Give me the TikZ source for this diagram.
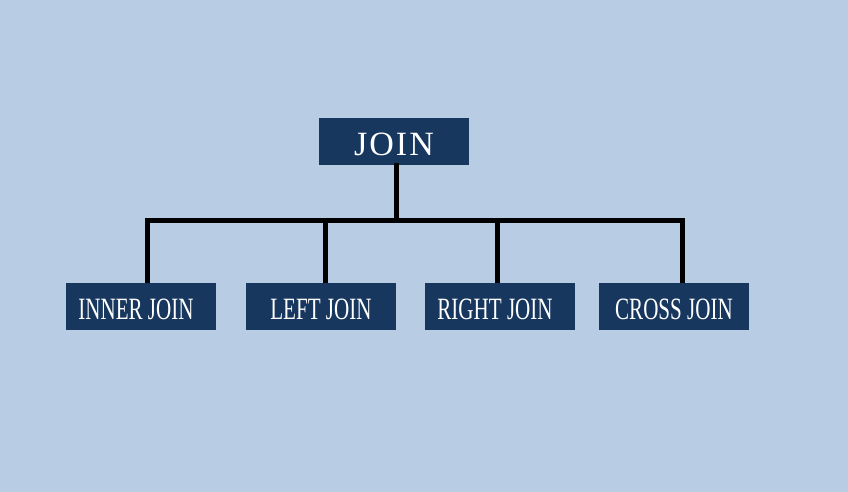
\documentclass[tikz,border=0pt]{standalone}
\usepackage{fontspec}
\setmainfont{Liberation Serif}
\newfontfamily\narrowserif{Liberation Serif}[FakeStretch=0.68]
\newfontfamily\wideserif{Liberation Serif}[LetterSpace=6]
\usepackage{xcolor}
\usepackage{tikz}
\usetikzlibrary{positioning, calc}

\definecolor{bgblue}{HTML}{B8CCE4}
\definecolor{navy}{HTML}{17375E}

\newcommand{\lowtext}[1]{\raisebox{-3pt}[\height][\depth]{#1}}

\begin{document}
\begin{tikzpicture}[
  x=1pt, y=-1pt,
  box/.style={rectangle, fill=navy, text=white, minimum width=150pt, minimum height=47pt, inner sep=0pt, align=center},
  rootbox/.style={box, font=\wideserif\fontsize{34}{36}\selectfont},
  joinbox/.style={box, font=\narrowserif\fontsize{31}{33}\selectfont},
  conn/.style={line width=5pt, black, line join=miter, line cap=rect},
]
  \useasboundingbox[fill=bgblue] (0,0) rectangle (848,492);

  % Nodes
  \node[rootbox] (join) at (394,141.5) {\lowtext{JOIN}};
  \node[joinbox] (inner) at (141,306.5) {\lowtext{INNER JOIN\hspace{10pt}}};
  \node[joinbox] (left) at (321,306.5) {\lowtext{LEFT JOIN}};
  \node[joinbox] (right) at (500,306.5) {\lowtext{RIGHT JOIN\hspace{10pt}}};
  \node[joinbox] (cross) at (674,306.5) {\lowtext{CROSS JOIN}};
  \coordinate (bus) at (396,220);

  % Lines
  \draw[conn] ([xshift=2pt]join.south) -- (bus);
  \draw[conn, line cap=butt] ([xshift=6pt]inner.north) |- ([xshift=8.7pt]cross.north |- bus) -- ([xshift=8.7pt]cross.north);
  \draw[conn, line cap=butt] ([xshift=4pt]left.north) -- ([xshift=4pt]left.north |- bus);
  \draw[conn, line cap=butt] ([xshift=-3pt]right.north) -- ([xshift=-3pt]right.north |- bus);
\end{tikzpicture}
\end{document}
